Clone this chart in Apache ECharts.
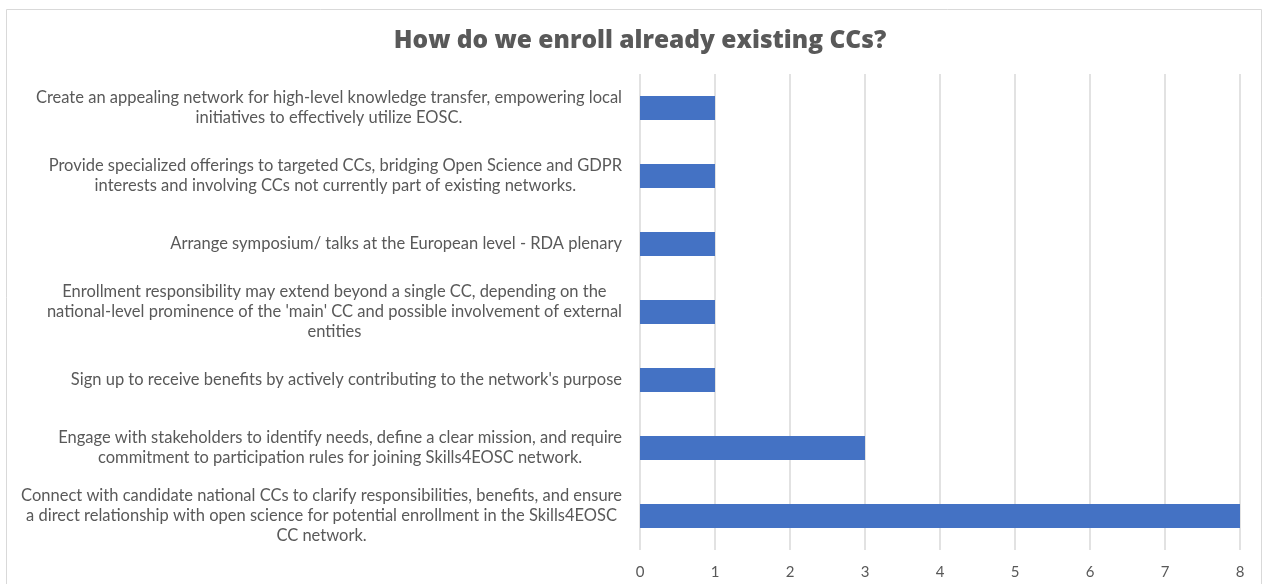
<!DOCTYPE html>
<html>
<head>
<meta charset="utf-8">
<title>How do we enroll already existing CCs?</title>
<script src="https://cdn.jsdelivr.net/npm/echarts@6/dist/echarts.min.js"></script>
<style>
  html, body { margin: 0; padding: 0; background: #ffffff; }
  #chart { width: 1263px; height: 584px; }
</style>
</head>
<body>
<div id="chart"></div>
<script>
// Answers, top to bottom (line breaks as they wrap on the axis)
const categories = [
  "Create an appealing network for high-level knowledge transfer, empowering local\ninitiatives to effectively utilize EOSC.",
  "Provide specialized offerings to targeted CCs, bridging Open Science and GDPR\ninterests and involving CCs not currently part of existing networks.",
  "Arrange symposium/ talks at the European level - RDA plenary",
  "Enrollment responsibility may extend beyond a single CC, depending on the\nnational-level prominence of the 'main' CC and possible involvement of external\nentities",
  "Sign up to receive benefits by actively contributing to the network's purpose",
  "Engage with stakeholders to identify needs, define a clear mission, and require\ncommitment to participation rules for joining Skills4EOSC network.",
  "Connect with candidate national CCs to clarify responsibilities, benefits, and ensure\na direct relationship with open science for potential enrollment in the Skills4EOSC\nCC network."
];
const counts = [1, 1, 1, 1, 1, 3, 8];
const xTicks = [0, 1, 2, 3, 4, 5, 6, 7, 8];

const chart = echarts.init(document.getElementById('chart'), null, { renderer: 'canvas' });

const textColor = '#595959';
const bodyFont = 'Lato, "Open Sans", sans-serif';

chart.setOption({
  animation: false,
  backgroundColor: '#ffffff',
  title: {
    text: 'How do we enroll already existing CCs?',
    left: 635,
    top: 24,
    textAlign: 'center',
    textStyle: {
      fontFamily: '"Open Sans", Lato, sans-serif',
      fontWeight: 800,
      fontSize: 24.5,
      color: textColor
    }
  },
  graphic: [{
    type: 'rect',
    silent: true,
    shape: { x: 6.5, y: 9.5, width: 1255, height: 620 },
    style: { fill: 'none', stroke: '#d9d9d9', lineWidth: 1 }
  }],
  grid: { left: 640, right: 23, top: 74, bottom: 34, containLabel: false },
  xAxis: {
    type: 'value',
    min: xTicks[0],
    max: xTicks[xTicks.length - 1],
    interval: 1,
    axisLine: { show: false },
    axisTick: { show: false },
    axisLabel: {
      margin: 15,
      fontFamily: bodyFont,
      fontSize: 15,
      color: textColor,
      formatter: v => String(v)
    },
    splitLine: { show: true, lineStyle: { color: '#d9d9d9', width: 1.5 } }
  },
  yAxis: {
    type: 'category',
    inverse: true,
    data: categories,
    axisLine: { show: false },
    axisTick: { show: false },
    axisLabel: {
      margin: 18,
      interval: 0,
      align: 'right',
      formatter: v => v.split('\n').map(l => '{c|' + l + '}').join('\n'),
      rich: {
        c: {
          align: 'center',
          fontFamily: bodyFont,
          fontSize: 16.5,
          lineHeight: 20,
          color: textColor
        }
      }
    }
  },
  series: [{
    type: 'bar',
    data: counts,
    barWidth: 24,
    itemStyle: { color: '#4472c4' }
  }]
});
</script>
</body>
</html>
